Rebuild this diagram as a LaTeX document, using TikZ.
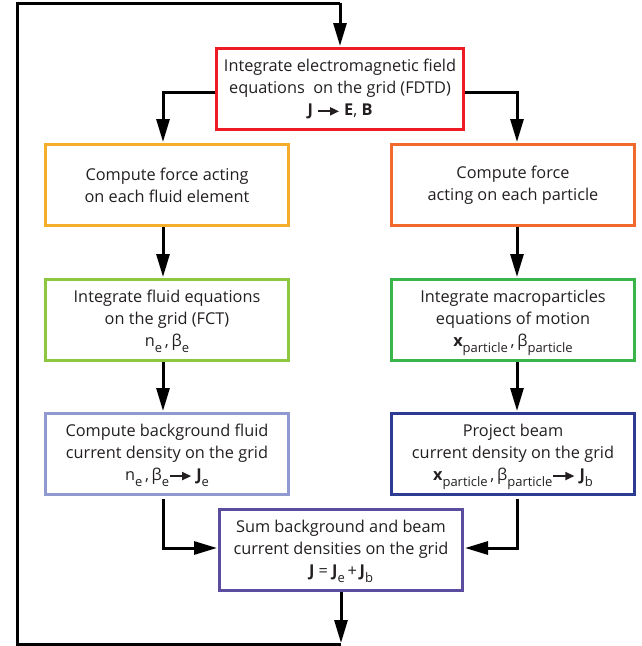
\documentclass[tikz,border=0pt]{standalone}
\usepackage{fontspec}
\setmainfont{Open Sans}
\usetikzlibrary{arrows.meta}
\definecolor{txt}{HTML}{231F20}
\definecolor{cred}{HTML}{ED1C24}
\definecolor{cyel}{HTML}{F5AE2B}
\definecolor{corg}{HTML}{F26A2B}
\definecolor{cgrl}{HTML}{8DC63F}
\definecolor{cgrd}{HTML}{3AB54A}
\definecolor{cbll}{HTML}{9099D0}
\definecolor{cbld}{HTML}{2E3B93}
\definecolor{cpur}{HTML}{5B4CA0}
\newcommand{\sbs}[1]{\raisebox{-0.36em}[\height][0pt]{\fontsize{13}{13}\selectfont #1}}
\newcommand{\rarr}{\tikz[baseline=-4.2pt]\draw[line width=1.8pt,txt,-{Triangle[length=9pt,width=8pt]}] (0pt,0pt) -- (21pt,0pt);}
\tikzset{
  box/.style={draw, line width=3pt, minimum width=243pt, minimum height=81pt,
    inner sep=0pt, align=center, text=txt, font=\fontsize{16.3}{22}\selectfont},
  conn/.style={line width=3pt, black, -{Triangle[length=23pt,width=13pt]}, shorten >=1pt},
  plain/.style={line width=3pt, black}
}
\begin{document}
\begin{tikzpicture}[x=1pt,y=-1pt]
\useasboundingbox (0,0) rectangle (641,646);
\node[box, draw=cred, minimum width=247pt] (R) at (340,89)
  {Integrate electromagnetic field\\ equations\ \ on the grid (FDTD)\\ \textbf{J} \rarr\ \textbf{E}, \textbf{B}};
\node[box, draw=cyel] (L1) at (167,185) {Compute force acting\\ on each fluid element};
\node[box, draw=corg] (R1) at (513,185) {Compute force\\ acting on each particle};
\node[box, draw=cgrl] (L2) at (167,320) {Integrate fluid equations\\ on the grid (FCT)\\ n\sbs{e}\,,\,β\sbs{e}};
\node[box, draw=cgrd] (R2) at (513,320) {Integrate macroparticles\\ equations of motion\\ \textbf{x}\sbs{particle}\,,\,β\sbs{particle}};
\node[box, draw=cbll] (L3) at (167,454) {Compute background fluid\\ current density on the grid\\ n\sbs{e}\,,\,β\sbs{e}\rarr\ \textbf{J}\sbs{e}};
\node[box, draw=cbld] (R3) at (513,454) {Project beam\\ current density on the grid\\ \textbf{x}\sbs{particle}\,,\,β\sbs{particle}\rarr\ \textbf{J}\sbs{b}};
\node[box, draw=cpur] (P) at (341,550) {Sum background and beam\\ current densities on the grid\\ \textbf{J} = \textbf{J}\sbs{e}\,+\,\textbf{J}\sbs{b}};
\coordinate (bot) at (340,644);
\coordinate (bl) at (17.5,644);
\coordinate (tl) at (17.5,3);
\coordinate (tr) at (340,3);
% loop
\draw[conn] (P.south) -- (P.south |- bot);
\draw[plain] (P.south |- bot) -- (bl) -- (tl) -- (tr);
\draw[conn] (tr) -- (R.north);
% branches
\draw[conn] ([yshift=-3pt]R.west) -| ([xshift=-4pt]L1.north);
\draw[conn] ([yshift=-3pt]R.east) -| ([xshift=4pt]R1.north);
\draw[conn] ([xshift=-4pt]L1.south) -- ([xshift=-4pt]L2.north);
\draw[conn] ([xshift=4pt]R1.south) -- ([xshift=4pt]R2.north);
\draw[conn] ([xshift=-4pt]L2.south) -- ([xshift=-4pt]L3.north);
\draw[conn] ([xshift=4pt]R2.south) -- ([xshift=4pt]R3.north);
\draw[conn] ([xshift=-4pt,yshift=-2.5pt]L3.south) |- ([yshift=2pt]P.west);
\draw[conn] ([xshift=4pt,yshift=-2.5pt]R3.south) |- ([yshift=2pt]P.east);
\end{tikzpicture}
\end{document}
